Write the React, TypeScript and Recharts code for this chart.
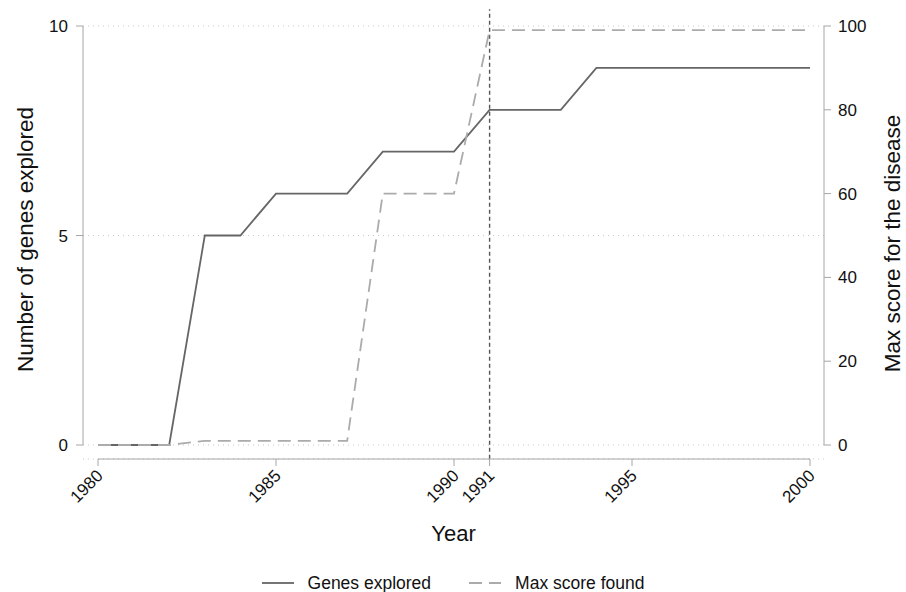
import React from 'react';
import {
  LineChart, Line, XAxis, YAxis, CartesianGrid, Legend, ReferenceLine,
} from 'recharts';

// yearly series
const years = [1980, 1981, 1982, 1983, 1984, 1985, 1986, 1987, 1988, 1989, 1990,
  1991, 1992, 1993, 1994, 1995, 1996, 1997, 1998, 1999, 2000];
const genesExplored = [0, 0, 0, 5, 5, 6, 6, 6, 7, 7, 7, 8, 8, 8, 9, 9, 9, 9, 9, 9, 9];
const maxScoreFound = [0, 0, 0, 1, 1, 1, 1, 1, 60, 60, 60, 99, 99, 99, 99, 99, 99, 99, 99, 99, 99];

const yearTicks = [1980, 1985, 1990, 1991, 1995, 2000];
const genesTicks = [0, 5, 10];
const scoreTicks = [0, 20, 40, 60, 80, 100];
const markerYear = 1991;

const data = years.map((year, i) => ({
  year,
  genes: genesExplored[i],
  score: maxScoreFound[i],
}));

const FONT = '"Liberation Sans", Arial, Helvetica, sans-serif';
const AXIS_GRAY = '#a6a6a6';

// axis lines only cover the data range, not the padding
const X_PAD = { left: 15, right: 14 };
const Y_PAD = { top: 0, bottom: 14 };

const YearTick = (props: any) => {
  const { x, y, payload } = props;
  return (
    <g transform={`translate(${x + 2},${y + 5})`}>
      <text transform="rotate(-45)" textAnchor="end" dominantBaseline="central"
        fontSize={17} fill="#111" fontFamily={FONT}>
        {payload.value}
      </text>
    </g>
  );
};

const LegendContent = (props: any) => {
  const { payload = [] } = props;
  return (
    <div style={{
      height: 33, display: 'flex', justifyContent: 'center', alignItems: 'flex-end',
      fontFamily: FONT, fontSize: 17.5, lineHeight: '18px', color: '#111',
    }}>
      {payload.map((entry: any, i: number) => (
        <div key={entry.value} style={{ display: 'flex', alignItems: 'center', marginRight: i < payload.length - 1 ? 38 : 0 }}>
          <svg width={32} height={10} style={{ marginRight: 14 }}>
            <line x1={0} y1={5} x2={32} y2={5} stroke={entry.color} strokeWidth={1.8}
              strokeDasharray={entry.payload?.strokeDasharray} />
          </svg>
          <span>{entry.value}</span>
        </div>
      ))}
    </div>
  );
};

export default function App() {
  const plotW = 906 - 83 - 82;
  const plotH = 592 - 26 - 133;
  const xAxisDash = `0 ${X_PAD.left} ${plotW - X_PAD.left - X_PAD.right} 100`;
  const yAxisDash = `${plotH - Y_PAD.bottom} 100`;
  return (
    <div style={{ position: 'absolute', left: 0, top: 0, fontFamily: FONT }}>
      <LineChart width={906} height={592} data={data}
        margin={{ top: 26, right: 0, bottom: 0, left: 0 }}>
        <CartesianGrid yAxisId="left" vertical={false} stroke="#c8c8c8" strokeDasharray="1 4" />
        <XAxis dataKey="year" type="number" domain={[1980, 2000]} ticks={yearTicks}
          padding={X_PAD} height={100} interval={0}
          stroke={AXIS_GRAY} tickSize={7} tick={<YearTick />}
          axisLine={{ stroke: AXIS_GRAY, strokeDasharray: xAxisDash }}
          label={{
            content: ({ viewBox }: any) => (
              <text x={viewBox.x + viewBox.width / 2} y={viewBox.y + 74} textAnchor="middle"
                dominantBaseline="central" fontSize={22} fill="#111" fontFamily={FONT}>Year</text>
            ),
          }} />
        <YAxis yAxisId="left" domain={[0, 10]} ticks={genesTicks} width={83}
          padding={Y_PAD} stroke={AXIS_GRAY} tickSize={7} tickMargin={8}
          axisLine={{ stroke: AXIS_GRAY, strokeDasharray: yAxisDash }}
          tick={{ fill: '#111', fontSize: 17 }}
          label={{
            content: ({ viewBox }: any) => {
              const cx = 25;
              const cy = viewBox.y + (viewBox.height - 14) / 2 + 4;
              return (
                <text x={cx} y={cy} transform={`rotate(-90, ${cx}, ${cy})`} textAnchor="middle"
                  dominantBaseline="central" fontSize={22.5} fill="#111" fontFamily={FONT}>
                  Number of genes explored
                </text>
              );
            },
          }} />
        <YAxis yAxisId="right" orientation="right" domain={[0, 100]} ticks={scoreTicks} width={82}
          padding={Y_PAD} stroke={AXIS_GRAY} tickSize={7} tickMargin={7}
          axisLine={{ stroke: AXIS_GRAY, strokeDasharray: yAxisDash }}
          tick={{ fill: '#111', fontSize: 17 }}
          label={{
            content: ({ viewBox }: any) => {
              const cx = viewBox.x + 68;
              const cy = viewBox.y + (viewBox.height - 14) / 2 + 8;
              return (
                <text x={cx} y={cy} transform={`rotate(-90, ${cx}, ${cy})`} textAnchor="middle"
                  dominantBaseline="central" fontSize={22.5} fill="#111" fontFamily={FONT}>
                  Max score for the disease
                </text>
              );
            },
          }} />
        <ReferenceLine yAxisId="left" ifOverflow="visible" stroke="#555" strokeWidth={1.4}
          strokeDasharray="4 3"
          segment={[{ x: markerYear, y: -0.33 }, { x: markerYear, y: 10.4 }]} />
        <Line yAxisId="left" dataKey="genes" name="Genes explored" type="linear"
          stroke="#666" strokeWidth={1.8} dot={false} isAnimationActive={false} />
        <Line yAxisId="right" dataKey="score" name="Max score found" type="linear"
          stroke="#ababab" strokeWidth={1.8} strokeDasharray="13 7" dot={false} isAnimationActive={false} />
        <Legend verticalAlign="bottom" content={<LegendContent />} />
      </LineChart>
    </div>
  );
}
